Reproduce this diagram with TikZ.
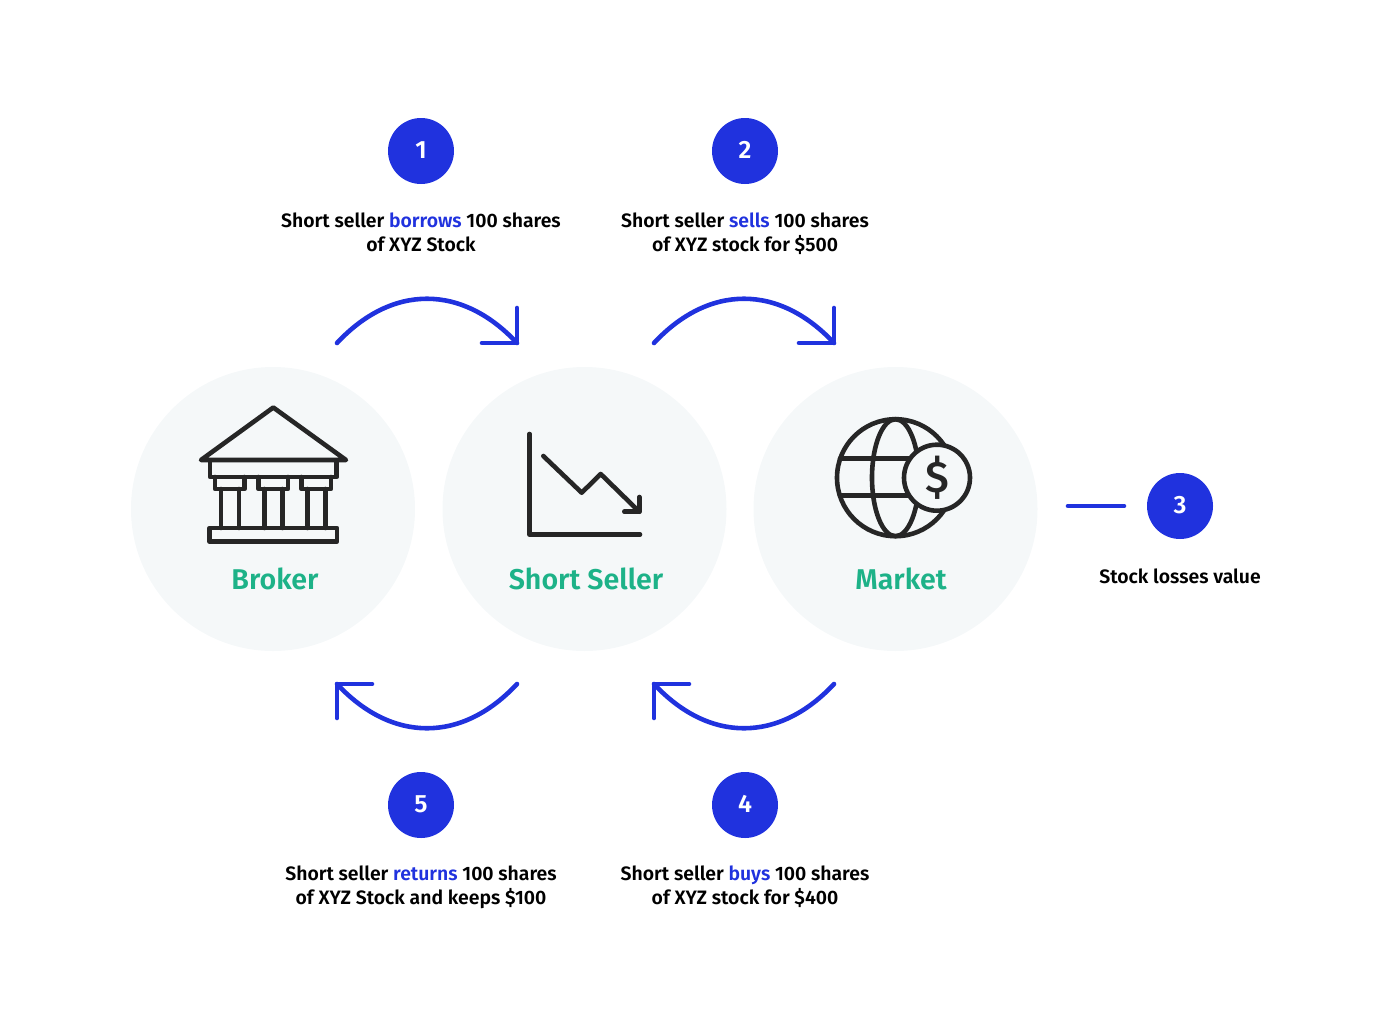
\documentclass[tikz,border=0pt]{standalone}
\usepackage{fontspec}
\setmainfont{Fira Sans SemiBold}[BoldFont={Fira Sans Bold}]
\newfontfamily\iconfont{Fira Sans Medium}
\definecolor{blu}{HTML}{2032DE}
\definecolor{grn}{HTML}{1DB288}
\definecolor{pale}{HTML}{F5F8F9}
\definecolor{ink}{HTML}{262626}
\newcommand{\hl}[1]{\textcolor{blu}{#1}}
\newcommand{\up}[1]{\raisebox{2pt}{#1}}
\tikzset{
  stage/.style={circle,fill=pale,minimum size=284pt,inner sep=0pt},
  stagename/.style={text=grn,font=\fontsize{28.6}{32}\selectfont,inner sep=0pt,text height=21pt,text depth=0pt},
  badge/.style={circle,fill=blu,text=white,minimum size=66pt,inner sep=0pt,font=\fontsize{25}{28}\selectfont},
  caption/.style={align=center,text=black,font=\fontsize{19.4}{24}\selectfont,inner sep=0pt},
  flow/.style={draw=blu,line width=4.6pt,line cap=round,line join=round},
  icon/.style={draw=ink,line width=4.6pt,line cap=round,line join=round},
}
\begin{document}
\begin{tikzpicture}[x=1pt,y=-1pt]
\useasboundingbox (0,0) rectangle (1384,1023);
\node[stage] (broker) at (273,509) {};
\node[stage] (seller) at (584.5,509) {};
\node[stage] (market) at (895.5,509) {};
\node[stagename] (brokerlabel) at (275,579) {Broker};
\node[stagename] (sellerlabel) at (586,579) {Short Seller};
\node[stagename] (marketlabel) at (901,579) {Market};
\node[badge] (b1) at (421,151) {\up{1}};
\node[badge] (b2) at (745,151) {\up{2}};
\node[badge] (b3) at (1180,506) {\up{3}};
\node[badge] (b4) at (745,805) {\up{4}};
\node[badge] (b5) at (421,805) {\up{5}};
\node[caption] (c1) at (421,234) {Short seller \hl{borrows} 100 shares\\of XYZ Stock\vphantom{y}};
\node[caption] (c2) at (745,234) {Short seller \hl{sells} 100 shares\\of XYZ stock for \$500\vphantom{y}};
\node[caption] (c3) at (1180,576) {Stock losses value};
\node[caption] (c4) at (745,887) {Short seller \hl{buys} 100 shares\\of XYZ stock for \$400\vphantom{y}};
\node[caption] (c5) at (421,887) {Short seller \hl{returns} 100 shares\\of XYZ Stock and keeps \$100\vphantom{y}};
% arcs
\foreach \n/\dx in {a/0,b/317}{
  \coordinate (\n s) at (337+\dx,343);
  \coordinate (\n e) at (517+\dx,343);
  \draw[flow] (\n s) .. controls (392+\dx,284) and (462+\dx,284) .. (\n e);
  \draw[flow] (482+\dx,343) -- (\n e) -- (517+\dx,308);
  \coordinate (\n t) at (517+\dx,684);
  \coordinate (\n u) at (337+\dx,684);
  \draw[flow] (\n t) .. controls (462+\dx,743) and (392+\dx,743) .. (\n u);
  \draw[flow] (372+\dx,684) -- (\n u) -- (337+\dx,718);
}
\coordinate (dashstart) at (1068,506);
\draw[flow] (dashstart) -- (1124,506);
% bank
\draw[icon] (273.3,407.5) -- (201,460) -- (346,460) -- cycle;
\draw[icon] (210,460) rectangle (336.7,477);
\foreach \x in {215,258.5,301.5}{
  \draw[icon] (\x,477) -- (\x,489) -- (\x+29.5,489) -- (\x+29.5,477);
  \draw[icon] (\x+6,489) -- (\x+6,528) (\x+24,489) -- (\x+24,528);
}
\draw[icon] (209.5,528) rectangle (337,541.5);
% chart
\draw[icon] (529.5,434) -- (529.5,534.5) -- (640,534.5);
\draw[icon] (543.3,456) -- (581.7,492.7) -- (600.7,474) -- (639.3,511.7);
\draw[icon] (639.3,497) -- (639.3,511.7) -- (624.3,511.7);
% globe
\draw[icon] (895.5,477.7) circle[radius=58.5];
\draw[icon] (895.5,477.7) ellipse[x radius=23.5,y radius=58.5];
\draw[icon] (840,458.3) -- (915,458.3) (840,495.7) -- (915,495.7);
\draw[icon,fill=pale] (937,477.7) circle[radius=33];
\node[text=ink,font=\iconfont\fontsize{44}{46}\selectfont,inner sep=0pt] (dollar) at (937,477.7) {\$};
\end{tikzpicture}
\end{document}
